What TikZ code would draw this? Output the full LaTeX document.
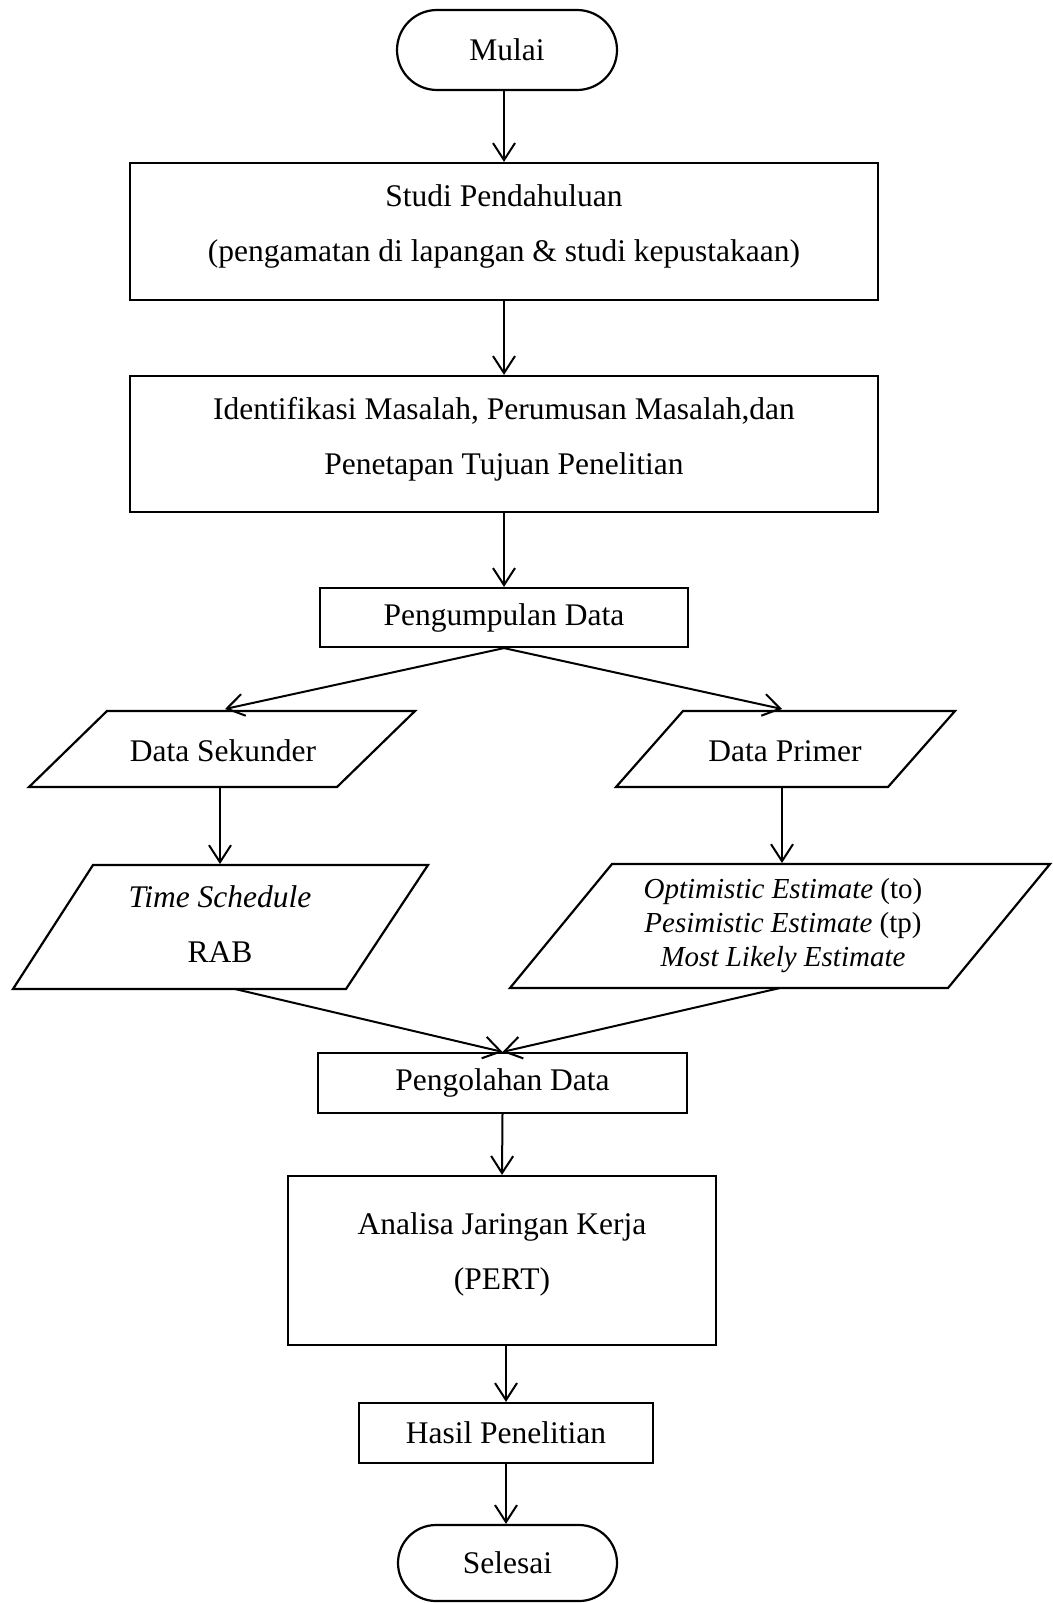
\documentclass[tikz,border=0pt]{standalone}
\usepackage{fontspec}
\setmainfont{Liberation Serif}
\usetikzlibrary{arrows.meta,shapes.misc}
\begin{document}
\begin{tikzpicture}[x=1pt,y=-1pt,
  every node/.style={font=\fontsize{31.5}{55}\selectfont, inner sep=0pt},
  box/.style={draw, line width=2.2pt},
  term/.style={draw, line width=2.2pt, rounded rectangle},
  txt/.style={align=center},
  smalltxt/.style={align=center, font=\fontsize{29}{34}\selectfont},
  para/.style={draw, line width=2.2pt, line join=miter},
  arr/.style={line width=2pt, -{Straight Barb[length=17pt,width=22pt]}}
]
\useasboundingbox (0,0) rectangle (1052,1603);

% terminals
\node[term, minimum width=220pt, minimum height=80pt, text depth=-3pt] (mulai) at (507,50) {Mulai};
\node[term, minimum width=219pt, minimum height=76pt] (selesai) at (507.5,1563) {Selesai};

% process boxes
\node[box, minimum width=748pt, minimum height=137pt] (studi) at (504,231.5) {};
\node[txt] (studiT) at (504,226) {Studi Pendahuluan\\(pengamatan di lapangan \& studi kepustakaan)};

\node[box, minimum width=748pt, minimum height=136pt] (ident) at (504,444) {};
\node[txt] (identT) at (504,439.5) {Identifikasi Masalah, Perumusan Masalah,dan\\Penetapan Tujuan Penelitian};

\node[box, minimum width=368pt, minimum height=59pt] (kumpul) at (504,617.5) {Pengumpulan Data};

\node[box, minimum width=369pt, minimum height=60pt] (olah) at (502.5,1083) {Pengolahan Data};

\node[box, minimum width=428pt, minimum height=169pt] (analisa) at (502,1260.5) {};
\node[txt] (analisaT) at (502,1254.5) {Analisa Jaringan Kerja\\(PERT)};

\node[box, minimum width=294pt, minimum height=60pt] (hasil) at (506,1433) {Hasil Penelitian};

% parallelograms (data)
\draw[para] (107,711) -- (415,711) -- (337,787) -- (29,787) -- cycle;
\node (sekT) at (223,751) {Data Sekunder};
\coordinate (sekTop) at (225,709);
\coordinate (sekBot) at (220,787);

\draw[para] (683,711) -- (955,711) -- (888,787) -- (616,787) -- cycle;
\node (primT) at (785,751) {Data Primer};
\coordinate (primTop) at (782,709);
\coordinate (primBot) at (782,787);

\draw[para] (93,865) -- (428,865) -- (346,989) -- (13,989) -- cycle;
\node[txt] (tsT) at (220,924) {\textit{Time Schedule}\\RAB};
\coordinate (tsTop) at (220,864);
\coordinate (tsBot) at (235,989);

\draw[para] (612,864) -- (1050,864) -- (948,988) -- (510,988) -- cycle;
\node[smalltxt] (estT) at (783,926) {\textit{Optimistic Estimate} (to)\\\textit{Pesimistic Estimate} (tp)\\\textit{Most Likely Estimate}};
\coordinate (estTop) at (782,863);
\coordinate (estBot) at (780,988);

% connectors
\draw[arr] (mulai.south -| studi.north) -- (studi.north);
\draw[arr] (studi.south) -- (ident.north);
\draw[arr] (ident.south) -- (kumpul.north);
\draw[arr] (kumpul.south) -- (sekTop);
\draw[arr] (kumpul.south) -- (primTop);
\draw[arr] (sekBot) -- (tsTop);
\draw[arr] (primBot) -- (estTop);
\draw[arr] (tsBot) -- (olah.north);
\draw[arr] (estBot) -- (olah.north);
\draw[arr] (olah.south) -- (analisa.north);
\draw[arr] (analisa.south -| hasil.north) -- (hasil.north);
\draw[arr] (hasil.south) -- (hasil.south |- selesai.north);
\end{tikzpicture}
\end{document}
